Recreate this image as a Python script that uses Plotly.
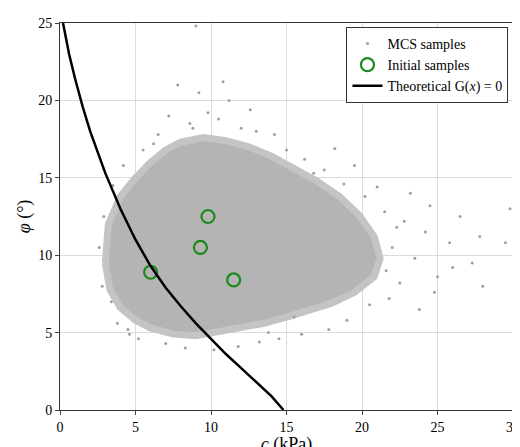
import plotly.graph_objects as go

# dense core of the MCS cloud, outline (c, phi)
core_c = [3.0, 3.2, 4.0, 5.0, 6.0, 7.0, 8.0, 9.5, 11.0, 12.5, 14.0, 15.5, 17.0,
          18.5, 19.8, 20.8, 21.2, 20.8, 19.5, 18.0, 16.5, 15.0, 13.5, 12.0,
          10.5, 9.0, 7.5, 6.0, 5.0, 4.0, 3.3, 3.0]
core_phi = [9.5, 12.0, 13.8, 15.0, 16.0, 16.8, 17.3, 17.6, 17.4, 17.0, 16.4,
            15.6, 14.8, 13.8, 12.6, 11.2, 9.8, 8.6, 7.6, 6.9, 6.4, 6.0, 5.6,
            5.3, 5.0, 4.8, 4.9, 5.3, 5.8, 6.6, 7.8, 9.5]

# sparse outlying samples
out_c = [2.6, 2.8, 3.5, 4.2, 4.5, 5.5, 6.5, 7.2, 7.8, 8.6, 9.2, 9.8, 10.5,
         11.2, 12.0, 13.0, 14.2, 15.0, 16.2, 17.5, 18.8, 20.2, 21.5, 22.0,
         22.8, 23.5, 24.2, 25.0, 25.8, 26.5, 27.3, 28.0, 29.8, 29.5, 21.8,
         22.5, 23.2, 24.5, 26.0, 20.5, 19.0, 17.8, 16.0, 14.5, 13.2, 11.8,
         10.2, 8.3, 7.0, 5.2, 4.6, 3.8, 9.0, 10.8, 12.6, 24.8, 27.8, 23.8,
         21.0, 19.5, 18.2, 15.5, 2.9, 3.4, 21.6, 22.3, 6.2, 8.8, 13.8, 16.8]
out_phi = [10.5, 8.0, 14.5, 15.8, 5.2, 16.8, 17.8, 19.0, 21.0, 18.5, 20.5,
           19.2, 18.8, 20.0, 18.2, 18.0, 17.8, 16.8, 16.2, 15.5, 14.6, 13.8,
           12.8, 10.5, 12.2, 9.8, 11.5, 8.6, 10.8, 12.5, 9.5, 8.0, 13.0, 10.8,
           7.2, 8.2, 14.0, 13.2, 9.2, 6.8, 5.8, 5.2, 4.9, 4.6, 4.4, 4.1, 3.9,
           4.0, 4.3, 4.6, 4.9, 5.6, 24.8, 21.2, 19.4, 7.6, 11.2, 6.5, 14.4,
           15.8, 16.9, 6.0, 12.5, 7.0, 9.0, 11.8, 17.2, 18.2, 5.0, 15.3]

init_c = [6.0, 9.3, 9.8, 11.5]
init_phi = [8.9, 10.5, 12.5, 8.4]

# theoretical limit state G(x) = 0
g_c = [0.2, 0.6, 1.0, 1.5, 2.0, 2.5, 3.0, 4.0, 5.0, 6.0, 7.0, 8.0, 9.0, 10.0,
       11.0, 12.0, 13.0, 14.0, 14.8]
g_phi = [25.0, 23.0, 21.4, 19.6, 18.0, 16.6, 15.3, 13.0, 11.0, 9.3, 7.9, 6.7,
         5.6, 4.6, 3.6, 2.7, 1.8, 0.9, 0.0]

grey = "#b4b4b4"
fig = go.Figure()
fig.add_trace(go.Scatter(x=core_c, y=core_phi, fill="toself", fillcolor=grey,
                         mode="lines", line=dict(color="#c4c4c4", width=7),
                         showlegend=False, hoverinfo="skip"))
fig.add_trace(go.Scatter(x=out_c, y=out_phi, mode="markers", name="MCS samples",
                         marker=dict(color="#a0a0a0", size=3)))
fig.add_trace(go.Scatter(x=init_c, y=init_phi, mode="markers",
                         name="Initial samples",
                         marker=dict(symbol="circle-open", size=13,
                                     color="#1a8a1a", line=dict(width=2.2))))
fig.add_trace(go.Scatter(x=g_c, y=g_phi, mode="lines",
                         name="Theoretical G(<i>x</i>) = 0",
                         line=dict(color="black", width=2.5)))

axis = dict(showgrid=True, gridcolor="#dcdcdc", showline=True, mirror=True,
            linecolor="#333", ticks="outside", ticklen=4, zeroline=False,
            tickfont=dict(size=14))
fig.update_xaxes(range=[0, 30], dtick=5,
                 title=dict(text="<i>c</i> (kPa)", standoff=0), **axis)
fig.update_yaxes(range=[0, 25], dtick=5,
                 title=dict(text="<i>φ</i> (°)", standoff=2), **axis)
fig.update_layout(
    width=520, height=447, plot_bgcolor="white", paper_bgcolor="white",
    margin=dict(l=52, r=10, t=8, b=44),
    font=dict(family="Liberation Serif", size=15, color="black"),
    legend=dict(x=0.99, y=0.99, xanchor="right", yanchor="top",
                bordercolor="#333", borderwidth=1, bgcolor="white",
                font=dict(size=14), tracegroupgap=0),
)
fig.write_html("out.html")
